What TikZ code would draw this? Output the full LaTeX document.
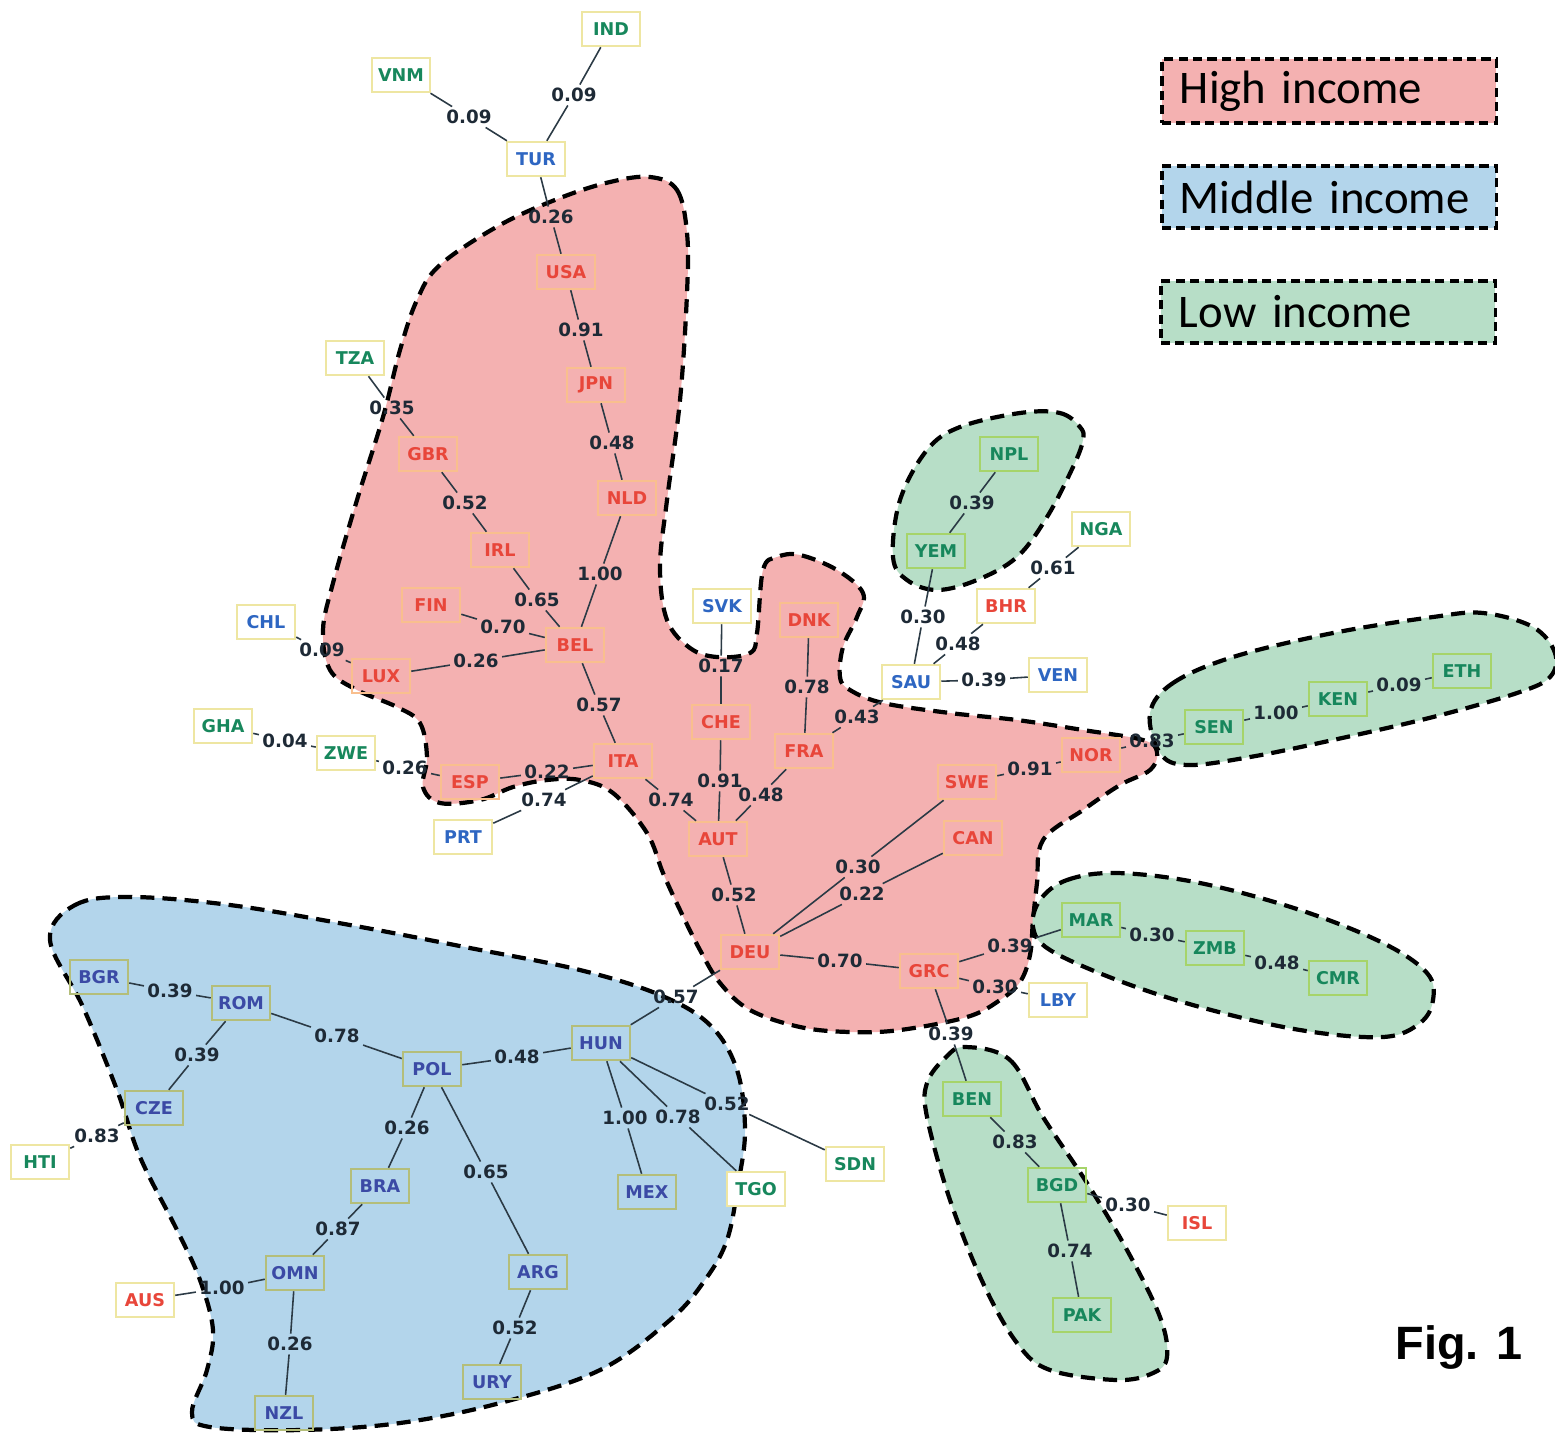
\documentclass[tikz,border=0pt]{standalone}
\usepackage{fontspec}
\newfontfamily\nodefont{DejaVu Sans}
\newfontfamily\legendfont{Carlito}
\newfontfamily\figfont{Liberation Sans}
\usepackage{tikz}
\definecolor{HighFill}{HTML}{F4B1B1}
\definecolor{MidFill}{HTML}{B3D5EB}
\definecolor{LowFill}{HTML}{B7DEC7}
\definecolor{HighText}{HTML}{E8463A}
\definecolor{MidText}{HTML}{3B4AA5}
\definecolor{MidOut}{HTML}{2E66C2}
\definecolor{LowText}{HTML}{17875C}
\definecolor{HighEdge}{HTML}{F9BF8E}
\definecolor{MidEdge}{HTML}{B4BE7A}
\definecolor{LowEdge}{HTML}{A6D46A}
\definecolor{OutEdge}{HTML}{EEE6A2}
\definecolor{LabelText}{HTML}{1E2A36}
\definecolor{LinkGray}{HTML}{2B3A45}
\tikzset{
  cbox/.style={rectangle, line width=0.7pt, minimum width=0.58cm, minimum height=0.34cm, inner sep=1pt, font=\nodefont\bfseries\fontsize{5}{6}\selectfont},
  hibox/.style={cbox, draw=HighEdge, text=HighText},
  hiout/.style={cbox, draw=OutEdge, fill=white, text=HighText},
  midbox/.style={cbox, draw=MidEdge, text=MidText},
  midout/.style={cbox, draw=OutEdge, fill=white, text=MidOut},
  lowbox/.style={cbox, draw=LowEdge, text=LowText},
  lowout/.style={cbox, draw=OutEdge, fill=white, text=LowText},
  wlabel/.style={inner sep=0.8pt, text=LabelText, font=\nodefont\bfseries\fontsize{5.2}{6}\selectfont},
  link/.style={line width=0.45pt, draw=LinkGray},
  blob/.style={draw=black, line width=1.2pt, dash pattern=on 4pt off 2.3pt},
  legbox/.style={rectangle, draw=black, line width=0.9pt, dash pattern=on 2.6pt off 1.5pt, minimum height=0.62cm, text width=2.98cm, inner xsep=0.18cm, align=left, font=\legendfont\fontsize{13.3}{15}\selectfont}
}

\begin{document}
\begin{tikzpicture}[x=0.01cm, y=-0.01cm]
  \useasboundingbox (0,0) rectangle (1555,1433);

  % income regions
  \draw[blob, fill=HighFill] plot[smooth cycle, tension=0.6] coordinates {
    (650,177) (677,190) (687,233) (687,293) (680,400) (667,500) (660,567) (667,620) (690,648) (717,657)
    (750,653) (757,633) (763,570) (777,557) (800,555) (837,570) (863,593) (857,617) (843,647) (840,677)
    (850,690) (883,703) (950,713) (1017,720) (1083,730) (1143,740) (1157,752) (1150,770) (1120,785)
    (1083,810) (1043,840) (1037,883) (1033,920) (1030,955) (1020,982) (1000,1000) (967,1017) (900,1030)
    (850,1032) (800,1027) (750,1010) (720,983) (700,950) (680,910) (663,873) (647,833) (613,793) (580,780)
    (547,780) (513,787) (480,800) (440,803) (423,787) (427,757) (420,723) (397,707) (357,690) (330,670)
    (323,630) (333,583) (357,500) (383,417) (400,350) (417,300) (440,265) (500,225) (560,198) (610,182)};
  \draw[blob, fill=MidFill] plot[smooth cycle, tension=0.6] coordinates {
    (50,940) (75,905) (130,897) (230,905) (350,925) (470,948) (580,970) (660,995) (710,1025) (737,1070)
    (745,1130) (738,1185) (727,1240) (705,1280) (670,1320) (600,1370) (500,1403) (400,1423) (300,1430)
    (210,1427) (192,1412) (207,1370) (213,1330) (200,1280) (177,1230) (140,1157) (117,1090) (83,1007)};
  \draw[blob, fill=LowFill] plot[smooth cycle, tension=0.6] coordinates {
    (1020,413) (1060,413) (1080,427) (1083,440) (1073,467) (1047,517) (1017,557) (977,580) (937,590)
    (907,580) (893,557) (900,500) (927,450) (960,427)};
  \draw[blob, fill=LowFill] plot[smooth cycle, tension=0.6] coordinates {
    (1150,713) (1173,683) (1233,657) (1333,633) (1433,617) (1483,613) (1533,627) (1555,653) (1550,677)
    (1517,693) (1433,717) (1333,740) (1250,757) (1187,765) (1160,753)};
  \draw[blob, fill=LowFill] plot[smooth cycle, tension=0.6] coordinates {
    (1040,900) (1067,880) (1117,873) (1200,883) (1300,910) (1383,943) (1427,973) (1433,1000) (1420,1023)
    (1383,1037) (1300,1030) (1200,1007) (1117,980) (1050,950) (1033,927)};
  \draw[blob, fill=LowFill] plot[smooth cycle, tension=0.6] coordinates {
    (965,1047) (1010,1060) (1043,1117) (1087,1183) (1127,1250) (1160,1317) (1167,1357) (1153,1373)
    (1117,1380) (1050,1370) (1017,1343) (983,1283) (950,1200) (927,1117) (927,1083) (945,1058)};

  % countries
  \node[hibox] (USA) at (566,272) {USA};
  \node[hibox] (JPN) at (596,385) {JPN};
  \node[hibox] (GBR) at (428,454) {GBR};
  \node[hibox] (NLD) at (627,498) {NLD};
  \node[hibox] (IRL) at (500,550) {IRL};
  \node[hibox] (FIN) at (431,605) {FIN};
  \node[hibox] (BEL) at (575,645) {BEL};
  \node[hibox] (LUX) at (381,676) {LUX};
  \node[hibox] (ESP) at (470,782) {ESP};
  \node[hibox] (ITA) at (623,761) {ITA};
  \node[hibox] (DNK) at (809,620) {DNK};
  \node[hibox] (CHE) at (721,722) {CHE};
  \node[hibox] (FRA) at (804,751) {FRA};
  \node[hibox] (AUT) at (718,839) {AUT};
  \node[hibox] (NOR) at (1091,755) {NOR};
  \node[hibox] (SWE) at (967,782) {SWE};
  \node[hibox] (CAN) at (973,838) {CAN};
  \node[hibox] (DEU) at (750,952) {DEU};
  \node[hibox] (GRC) at (929,971) {GRC};
  \node[hiout] (BHR) at (1006,606) {BHR};
  \node[hiout] (ISL) at (1197,1223) {ISL};
  \node[hiout] (AUS) at (145,1300) {AUS};

  \node[midbox] (BGR) at (99,977) {BGR};
  \node[midbox] (ROM) at (241,1003) {ROM};
  \node[midbox] (CZE) at (154,1108) {CZE};
  \node[midbox] (POL) at (432,1069) {POL};
  \node[midbox] (HUN) at (601,1043) {HUN};
  \node[midbox] (BRA) at (380,1186) {BRA};
  \node[midbox] (MEX) at (647,1192) {MEX};
  \node[midbox] (OMN) at (295,1273) {OMN};
  \node[midbox] (ARG) at (538,1272) {ARG};
  \node[midbox] (NZL) at (284,1413) {NZL};
  \node[midbox] (URY) at (492,1382) {URY};
  \node[midout] (TUR) at (536,159) {TUR};
  \node[midout] (SVK) at (722,606) {SVK};
  \node[midout] (CHL) at (266,622) {CHL};
  \node[midout] (PRT) at (463,837) {PRT};
  \node[midout] (SAU) at (911,682) {SAU};
  \node[midout] (VEN) at (1058,675) {VEN};
  \node[midout] (LBY) at (1058,1000) {LBY};

  \node[lowbox] (NPL) at (1009,454) {NPL};
  \node[lowbox] (YEM) at (936,551) {YEM};
  \node[lowbox] (SEN) at (1214,727) {SEN};
  \node[lowbox] (KEN) at (1338,699) {KEN};
  \node[lowbox] (ETH) at (1462,671) {ETH};
  \node[lowbox] (MAR) at (1091,920) {MAR};
  \node[lowbox] (ZMB) at (1215,948) {ZMB};
  \node[lowbox] (CMR) at (1338,978) {CMR};
  \node[lowbox] (BEN) at (972,1099) {BEN};
  \node[lowbox] (BGD) at (1057,1185) {BGD};
  \node[lowbox] (PAK) at (1082,1315) {PAK};
  \node[lowout] (IND) at (611,29) {IND};
  \node[lowout] (VNM) at (401,75) {VNM};
  \node[lowout] (TZA) at (355,358) {TZA};
  \node[lowout] (GHA) at (223,726) {GHA};
  \node[lowout] (ZWE) at (346,753) {ZWE};
  \node[lowout] (HTI) at (40,1162) {HTI};
  \node[lowout] (TGO) at (756,1189) {TGO};
  \node[lowout] (SDN) at (855,1164) {SDN};
  \node[lowout] (NGA) at (1101,529) {NGA};

  % weights
  \node[wlabel] (vnmtur) at (469,117) {0.09};
  \node[wlabel] (indtur) at (574,95) {0.09};
  \node[wlabel] (turusa) at (551,217) {0.26};
  \node[wlabel] (usajpn) at (581,330) {0.91};
  \node[wlabel] (jpnnld) at (612,443) {0.48};
  \node[wlabel] (tzagbr) at (392,408) {0.35};
  \node[wlabel] (gbrirl) at (465,503) {0.52};
  \node[wlabel] (nldbel) at (600,574) {1.00};
  \node[wlabel] (irlbel) at (537,600) {0.65};
  \node[wlabel] (finbel) at (503,627) {0.70};
  \node[wlabel] (chllux) at (322,650) {0.09};
  \node[wlabel] (luxbel) at (476,661) {0.26};
  \node[wlabel] (belita) at (599,705) {0.57};
  \node[wlabel] (ghazwe) at (285,741) {0.04};
  \node[wlabel] (zweesp) at (405,768) {0.26};
  \node[wlabel] (espita) at (547,772) {0.22};
  \node[wlabel] (prtita) at (544,800) {0.74};
  \node[wlabel] (itaaut) at (671,800) {0.74};
  \node[wlabel] (svkche) at (721,666) {0.17};
  \node[wlabel] (cheaut) at (720,781) {0.91};
  \node[wlabel] (dnkfra) at (807,687) {0.78};
  \node[wlabel] (fraaut) at (761,795) {0.48};
  \node[wlabel] (frasau) at (857,717) {0.43};
  \node[wlabel] (autdeu) at (734,895) {0.52};
  \node[wlabel] (swedeu) at (858,867) {0.30};
  \node[wlabel] (candeu) at (862,894) {0.22};
  \node[wlabel] (norswe) at (1030,769) {0.91};
  \node[wlabel] (norsen) at (1152,741) {0.83};
  \node[wlabel] (senken) at (1276,713) {1.00};
  \node[wlabel] (kneeth) at (1399,685) {0.09};
  \node[wlabel] (yemsau) at (923,617) {0.30};
  \node[wlabel] (nplyem) at (972,503) {0.39};
  \node[wlabel] (bhrsau) at (958,644) {0.48};
  \node[wlabel] (ngabhr) at (1053,568) {0.61};
  \node[wlabel] (sauven) at (984,680) {0.39};
  \node[wlabel] (deugrc) at (840,961) {0.70};
  \node[wlabel] (grcmar) at (1010,946) {0.39};
  \node[wlabel] (grclby) at (995,987) {0.30};
  \node[wlabel] (grcben) at (951,1034) {0.39};
  \node[wlabel] (marzmb) at (1152,935) {0.30};
  \node[wlabel] (zmbcmr) at (1277,963) {0.48};
  \node[wlabel] (benbgd) at (1015,1142) {0.83};
  \node[wlabel] (bgdisl) at (1128,1205) {0.30};
  \node[wlabel] (bgdpak) at (1070,1251) {0.74};
  \node[wlabel] (deuhun) at (676,997) {0.57};
  \node[wlabel] (bgrrom) at (170,991) {0.39};
  \node[wlabel] (rompol) at (337,1036) {0.78};
  \node[wlabel] (romcze) at (197,1055) {0.39};
  \node[wlabel] (czehti) at (97,1136) {0.83};
  \node[wlabel] (polhun) at (517,1057) {0.48};
  \node[wlabel] (polbra) at (407,1128) {0.26};
  \node[wlabel] (polarg) at (486,1172) {0.65};
  \node[wlabel] (hunmex) at (625,1118) {1.00};
  \node[wlabel] (huntgo) at (678,1117) {0.78};
  \node[wlabel] (hunsdn) at (727,1104) {0.52};
  \node[wlabel] (braomn) at (338,1229) {0.87};
  \node[wlabel] (omnaus) at (222,1288) {1.00};
  \node[wlabel] (omnnzl) at (290,1344) {0.26};
  \node[wlabel] (argury) at (515,1328) {0.52};

  \foreach \a/\w/\b in {VNM/vnmtur/TUR, IND/indtur/TUR, TUR/turusa/USA, USA/usajpn/JPN, JPN/jpnnld/NLD,
      TZA/tzagbr/GBR, GBR/gbrirl/IRL, NLD/nldbel/BEL, IRL/irlbel/BEL, FIN/finbel/BEL, CHL/chllux/LUX,
      LUX/luxbel/BEL, BEL/belita/ITA, GHA/ghazwe/ZWE, ZWE/zweesp/ESP, ESP/espita/ITA, PRT/prtita/ITA,
      ITA/itaaut/AUT, SVK/svkche/CHE, CHE/cheaut/AUT, DNK/dnkfra/FRA, FRA/fraaut/AUT, FRA/frasau/SAU,
      AUT/autdeu/DEU, SWE/swedeu/DEU, CAN/candeu/DEU, NOR/norswe/SWE, NOR/norsen/SEN, SEN/senken/KEN,
      KEN/kneeth/ETH, YEM/yemsau/SAU, NPL/nplyem/YEM, BHR/bhrsau/SAU, NGA/ngabhr/BHR, SAU/sauven/VEN,
      DEU/deugrc/GRC, GRC/grcmar/MAR, GRC/grclby/LBY, GRC/grcben/BEN, MAR/marzmb/ZMB, ZMB/zmbcmr/CMR,
      BEN/benbgd/BGD, BGD/bgdisl/ISL, BGD/bgdpak/PAK, DEU/deuhun/HUN, BGR/bgrrom/ROM, ROM/rompol/POL,
      ROM/romcze/CZE, CZE/czehti/HTI, POL/polhun/HUN, POL/polbra/BRA, POL/polarg/ARG, HUN/hunmex/MEX,
      HUN/huntgo/TGO, HUN/hunsdn/SDN, BRA/braomn/OMN, OMN/omnaus/AUS, OMN/omnnzl/NZL, ARG/argury/URY}
    \draw[link] (\a) -- (\w) -- (\b);

  % legend
  \node[legbox, fill=HighFill] (lhigh) at (1329,91) {High income};
  \node[legbox, fill=MidFill] (lmid) at (1329,197) {Middle income};
  \node[legbox, fill=LowFill] (llow) at (1328,312) {Low income};
  \node[font=\figfont\bfseries\fontsize{13.3}{15}\selectfont] (fig) at (1459,1347) {Fig. 1};
\end{tikzpicture}
\end{document}
